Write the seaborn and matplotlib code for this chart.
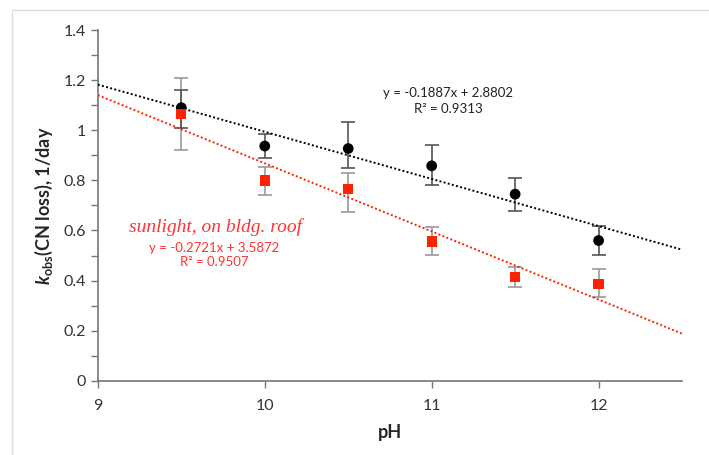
import numpy as np
import pandas as pd
import seaborn as sns
import matplotlib.pyplot as plt
from matplotlib.patches import Rectangle

sns.set_style("white")
plt.rcParams['font.family'] = ['Lato', 'DejaVu Sans']
plt.rcParams['mathtext.fontset'] = 'custom'
plt.rcParams['mathtext.rm'] = 'Lato'
plt.rcParams['mathtext.bf'] = 'Lato:bold'
plt.rcParams['mathtext.bfit'] = 'Lato:italic:bold'

# datos
ph = [9.5, 10, 10.5, 11, 11.5, 12]
k_dark = [1.09, 0.937, 0.927, 0.858, 0.745, 0.56]
err_dark_lo = [1.01, 0.89, 0.851, 0.78, 0.679, 0.501]
err_dark_hi = [1.16, 0.985, 1.033, 0.94, 0.811, 0.619]
k_sun = [1.065, 0.799, 0.765, 0.556, 0.414, 0.386]
err_sun_lo = [0.92, 0.74, 0.675, 0.501, 0.376, 0.334]
err_sun_hi = [1.21, 0.855, 0.83, 0.613, 0.456, 0.445]

df = pd.DataFrame({"pH": ph, "dark": k_dark, "sun": k_sun})

fig = plt.figure(figsize=(7.09, 4.55), dpi=100)
ax = fig.add_axes([0.138, 0.163, 0.824, 0.771])
fig.patches.append(Rectangle((12/709, -0.1), 1.0, 1.1 - 10/455, transform=fig.transFigure,
                             fill=False, edgecolor="#dddddd", lw=1))

ax.set_xlim(9, 12.5)
ax.set_ylim(0, 1.4)

red = "#ff2200"

# barras de error
ax.errorbar(ph, k_sun, yerr=[np.array(k_sun) - err_sun_lo, np.array(err_sun_hi) - k_sun],
            fmt="none", ecolor="#9a9a9a", elinewidth=1.2, capsize=5, capthick=1.2, zorder=2)
ax.errorbar(ph, k_dark, yerr=[np.array(k_dark) - err_dark_lo, np.array(err_dark_hi) - k_dark],
            fmt="none", ecolor="#555555", elinewidth=1.2, capsize=5, capthick=1.2, zorder=2)

# lineas de tendencia
sns.regplot(x="pH", y="dark", data=df, scatter=False, ci=None, truncate=False, ax=ax,
            line_kws=dict(color="black", ls=(0, (1, 1.2)), lw=1.4, zorder=3))
sns.regplot(x="pH", y="sun", data=df, scatter=False, ci=None, truncate=False, ax=ax,
            line_kws=dict(color=red, ls=(0, (1, 1.2)), lw=1.4, zorder=3))

ax = sns.scatterplot(x="pH", y="dark", data=df, marker="o", color="black", s=60,
                     edgecolor="none", zorder=4, ax=ax)
ax = sns.scatterplot(x="pH", y="sun", data=df, marker="s", color=red, s=55,
                     edgecolor="none", zorder=4, ax=ax)

ax.set_xlim(9, 12.5)
ax.set_ylim(0, 1.4)
ax.set_xticks([9, 10, 11, 12])
ax.set_yticks(np.arange(0, 1.41, 0.2))
ax.set_yticklabels(["0", "0.2", "0.4", "0.6", "0.8", "1", "1.2", "1.4"])
ax.set_yticks(np.arange(0.1, 1.4, 0.2), minor=True)
ax.tick_params(axis="both", which="both", direction="out", color="#777777",
               labelsize=11.5, labelcolor="#333333")
ax.tick_params(axis="y", which="major", length=5, width=1, left=True)
ax.tick_params(axis="y", which="minor", length=5, width=1, left=True)
ax.tick_params(axis="x", which="major", length=5, width=1, bottom=True, pad=8)
for s in ["top", "right"]:
    ax.spines[s].set_visible(False)
for s in ["left", "bottom"]:
    ax.spines[s].set_color("#777777")
    ax.spines[s].set_linewidth(1.2)

ax.set_xlabel("pH", fontsize=13, fontweight="bold", labelpad=8)
ax.set_ylabel(r"$\mathbfit{k}_{\mathbf{obs}}$(CN loss), 1/day", fontsize=13, fontweight="bold", labelpad=6)

ax.text(11.1, 1.149, "y = -0.1887x + 2.8802", ha="center", va="center", fontsize=9.5, color="#222222")
ax.text(11.1, 1.085, "R² = 0.9313", ha="center", va="center", fontsize=9.5, color="#222222")
ax.text(9.707, 0.615, "sunlight, on bldg. roof", ha="center", va="center", fontsize=14,
        color="#ff3333", family="Liberation Serif", style="italic")
ax.text(9.695, 0.532, "y = -0.2721x + 3.5872", ha="center", va="center", fontsize=9.5, color="#ff3333")
ax.text(9.695, 0.476, "R² = 0.9507", ha="center", va="center", fontsize=9.5, color="#ff3333")

plt.savefig("out.png", dpi=100)
